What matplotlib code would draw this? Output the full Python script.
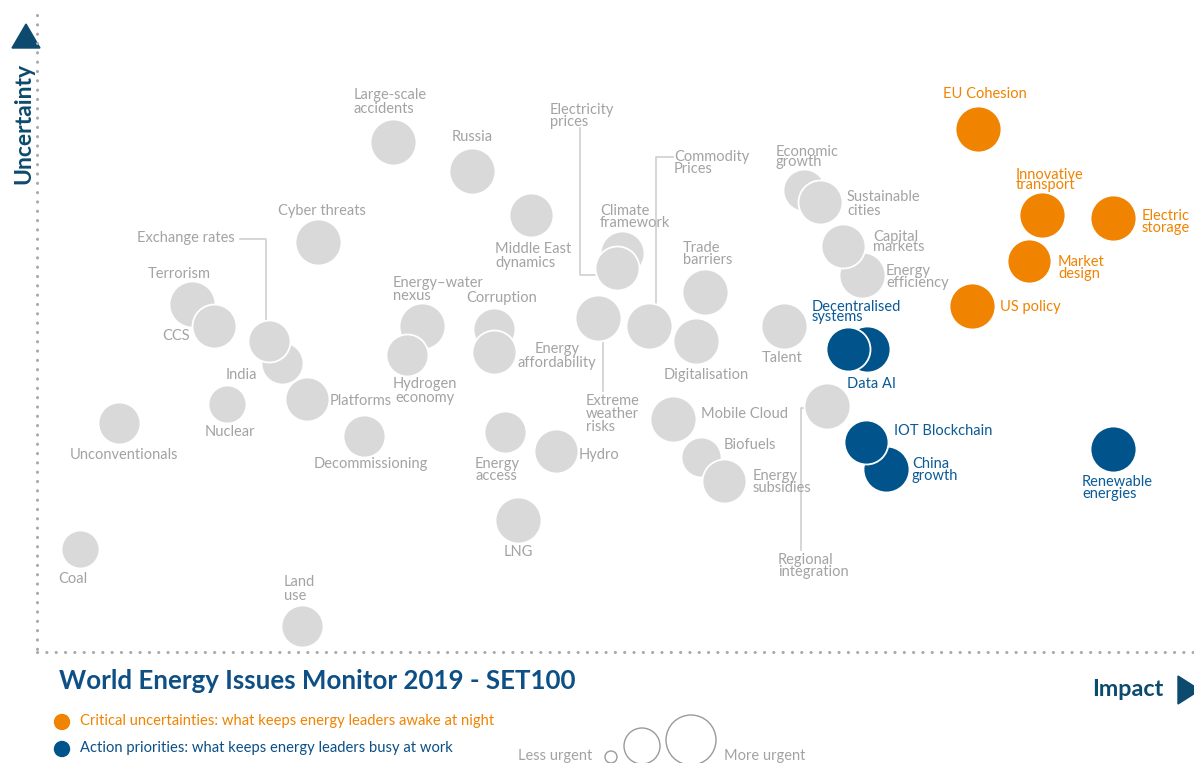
import matplotlib
matplotlib.use("Agg")
import matplotlib.pyplot as plt
from matplotlib.patches import Polygon, Circle

plt.rcParams["font.family"] = ["Lato", "DejaVu Sans"]

## Data: impact (x), uncertainty (y), urgency (bubble radius), group
names = [
    "Large-scale\naccidents", "Russia", "Middle East\ndynamics", "Cyber threats",
    "Terrorism", "CCS", "India", "Exchange rates", "Platforms", "Nuclear",
    "Unconventionals", "Decommissioning", "Coal", "Land\nuse",
    "Energy–water\nnexus", "Hydrogen\neconomy", "Climate\nframework",
    "Electricity\nprices", "Corruption", "Energy\naffordability",
    "Extreme\nweather\nrisks", "Commodity\nPrices", "Trade\nbarriers",
    "Digitalisation", "Talent", "Mobile Cloud", "Biofuels", "Energy\nsubsidies",
    "Energy\naccess", "Hydro", "LNG", "Regional\nintegration",
    "Economic\ngrowth", "Sustainable\ncities", "Energy\nefficiency",
    "Capital\nmarkets",
    "EU Cohesion", "Innovative\ntransport", "Electric\nstorage",
    "Market\ndesign", "US policy",
    "Decentralised\nsystems", "Data AI", "China\ngrowth", "IOT Blockchain",
    "Renewable\nenergies",
]
impact = [
    356, 435, 494, 281, 155, 177, 245, 232, 270, 190, 82, 327, 43, 265,
    385, 370, 585, 580, 457, 457, 561, 612, 668, 659, 747, 636, 664, 687,
    468, 519, 481, 790, 767, 783, 825, 806,
    941, 1005, 1076, 992, 935,
    830, 811, 849, 829, 1076,
]
uncertainty = [
    510, 481, 437, 410, 348, 326, 289, 311, 253, 248, 229, 216, 103, 26,
    326, 297, 399, 384, 323, 300, 334, 326, 360, 311, 326, 233, 195, 171,
    220, 201, 132, 246, 462, 450, 377, 406,
    523, 437, 434, 391, 346,
    303, 303, 183, 210, 203,
]
urgency = [
    23, 23, 22, 23, 23, 22, 21, 21, 22, 19, 21, 21, 19, 21,
    23, 21, 22, 22, 21, 22, 23, 23, 23, 23, 23, 23, 20, 22,
    21, 22, 23, 23, 21, 22, 23, 22,
    23, 23, 23, 22, 23,
    23, 22, 23, 22, 23,
]
group = ["other"] * 36 + ["critical"] * 5 + ["action"] * 5

## Styling
fill = {"other": "#d9d9d9", "critical": "#f08300", "action": "#00548b"}
text_col = {"other": "#a3a3a3", "critical": "#f08300", "action": "#0a5a96"}
dark_blue = "#0c4a6e"

# label offsets from bubble centre in pixels: (dx, dy, ha, linespacing)
label_pos = [
    (-39, -40, "left", 1.0), (0, -34, "center", 1.0), (-36, 41, "left", 1.05),
    (-40, -31, "left", 1.0), (-44, -30, "left", 1.0), (-24, 10, "right", 1.0),
    (-56, 12, "left", 1.0), (-34, -103, "right", 1.0), (23, 2, "left", 1.0),
    (-22, 28, "left", 1.0), (-49, 32, "left", 1.0), (-50, 28, "left", 1.0),
    (-22, 30, "left", 1.0), (-18, -37, "left", 1.0), (-29, -38, "left", 0.8),
    (18, 36, "center", 0.95), (-22, -36, "left", 0.85), (-67, -152, "left", 0.8),
    (-28, -31, "left", 1.0), (63, 4, "center", 0.95), (-12, 96, "left", 0.9),
    (25, -163, "left", 0.85), (-22, -38, "left", 0.85), (-32, 34, "left", 1.0),
    (-22, 32, "left", 1.0), (28, -5, "left", 1.0), (23, -12, "left", 1.0),
    (29, 1, "left", 0.8), (-30, 38, "left", 0.8), (23, 4, "left", 1.0),
    (0, 32, "center", 1.0), (-49, 160, "left", 0.85), (-28, -33, "left", 0.65),
    (27, 2, "left", 0.95), (24, 2, "left", 0.85), (30, -4, "left", 0.7),
    (7, -35, "center", 1.0), (-26, -35, "left", 0.55), (29, 4, "left", 0.9),
    (29, 7, "left", 0.85), (28, 1, "left", 1.0),
    (-55, -37, "left", 0.65), (-1, 35, "left", 1.0), (26, 1, "left", 0.8),
    (28, -11, "left", 1.0), (-31, 39, "left", 0.9),
]
# labels drawn one line at a time (first line dy, line pitch in px)
split_lines = {14: (-43, 13)}

W, H = 1194, 763
fig = plt.figure(figsize=(W / 100, H / 100), dpi=100)
fig.patch.set_facecolor("white")

# plot area: origin at the dotted corner
x0, y0 = 37, 652
ax = fig.add_axes([x0 / W, (H - y0) / H, (W - x0) / W, y0 / H])
ax.set_xlim(0, W - x0)
ax.set_ylim(0, y0)
ax.axis("off")

# overlay in pixel coordinates for decorations
ov = fig.add_axes([0, 0, 1, 1], zorder=-1)
ov.set_xlim(0, W)
ov.set_ylim(H, 0)
ov.axis("off")

# dotted axes
dots = dict(color="#a8a8a8", lw=2.2, linestyle=(0, (0.05, 3.0)), dash_capstyle="round")
ov.plot([x0, x0], [15, y0], **dots)
ov.plot([x0, W], [y0, y0], **dots)

# leader lines (pixels)
lead = dict(color="#d0d0d0", lw=1.2, zorder=0)
ov.plot([240, 266, 266], [239, 239, 320], **lead)
ov.plot([580, 580, 595], [128, 275, 275], **lead)
ov.plot([673, 656, 656], [157, 157, 303], **lead)
ov.plot([603, 603], [341, 391], **lead)
ov.plot([804, 801, 801], [408, 408, 550], **lead)

# bubbles
for i in range(len(names)):
    r = urgency[i] * 0.72
    ax.scatter(impact[i], uncertainty[i], s=(2 * r) ** 2, color=fill[group[i]],
               edgecolors="white", linewidths=1.3, zorder=2 + i * 0.01, clip_on=False)

# labels
for i in range(len(names)):
    dx, dy, ha, ls = label_pos[i]
    style = dict(textcoords="offset points", ha=ha, va="center", fontsize=10.5,
                 color=text_col[group[i]], zorder=5)
    if i in split_lines:
        dy0, pitch = split_lines[i]
        for k, line in enumerate(names[i].split("\n")):
            ax.annotate(line, (impact[i], uncertainty[i]),
                        xytext=(dx * 0.72, -(dy0 + k * pitch) * 0.72), **style)
        continue
    ax.annotate(names[i], (impact[i], uncertainty[i]),
                xytext=(dx * 0.72, -dy * 0.72), linespacing=ls,
                multialignment="left" if ha != "center" else "center", **style)

# axis titles and arrows
ov.add_patch(Polygon([[12, 48], [40, 48], [26, 24]], closed=True, color=dark_blue))
ov.text(24, 123, "Uncertainty", rotation=90, ha="center", va="center",
        fontsize=16.5, fontweight="bold", color=dark_blue)
ov.add_patch(Polygon([[1178, 676], [1178, 704], [1200, 690]], closed=True, color=dark_blue))
ov.text(1163, 690, "Impact", ha="right", va="center", fontsize=16.8,
        fontweight="bold", color=dark_blue)

ov.text(59, 681, "World Energy Issues Monitor 2019 - SET100", ha="left", va="center",
        fontsize=18.6, fontweight="bold", color="#0e4f85")

# legend
ov.add_patch(Circle((62, 722), 7.5, color=fill["critical"]))
ov.text(80, 721, "Critical uncertainties: what keeps energy leaders awake at night",
        ha="left", va="center", fontsize=10.6, color=fill["critical"])
ov.add_patch(Circle((62, 749), 7.5, color=fill["action"]))
ov.text(80, 748, "Action priorities: what keeps energy leaders busy at work",
        ha="left", va="center", fontsize=10.6, color="#0a4f86")

ov.text(518, 756, "Less urgent", ha="left", va="center", fontsize=10.5, color="#a3a3a3")
ov.text(724, 756, "More urgent", ha="left", va="center", fontsize=10.5, color="#a3a3a3")
for cx, cy, rr in [(611, 757, 6), (642, 746, 18), (691, 740, 25)]:
    ov.add_patch(Circle((cx, cy), rr, fill=False, ec="#9a9a9a", lw=1))

fig.savefig("out.png", dpi=100)
